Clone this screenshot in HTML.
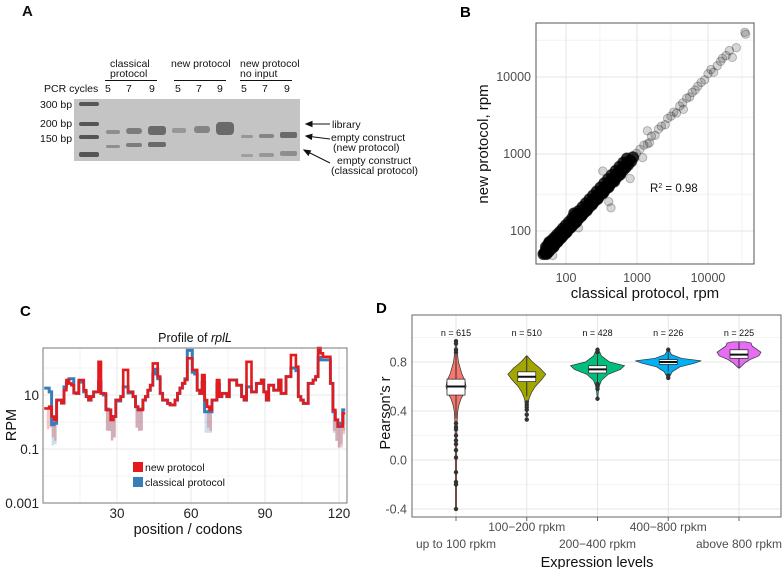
<!DOCTYPE html>
<html><head><meta charset="utf-8"><style>
html,body{margin:0;padding:0;background:#fff}
svg{display:block;font-family:"Liberation Sans",Arial,sans-serif}
</style></head><body>
<svg id="fig" width="782" height="569" viewBox="0 0 782 569" xmlns="http://www.w3.org/2000/svg">
<!-- Panel A -->
<g font-size="10.5" fill="#111">
<text x="22" y="16" font-size="15" font-weight="bold">A</text>
<text x="110" y="67"><tspan x="110">classical</tspan><tspan x="110" dy="10">protocol</tspan></text>
<text x="171" y="67">new protocol</text>
<text x="240" y="67"><tspan x="240">new protocol</tspan><tspan x="240" dy="10">no input</tspan></text>
<line x1="105" y1="80.5" x2="157" y2="80.5" stroke="#111"/>
<line x1="174" y1="80.5" x2="226" y2="80.5" stroke="#111"/>
<line x1="240" y1="80.5" x2="292" y2="80.5" stroke="#111"/>
<text x="44" y="92">PCR cycles</text>
<g>
<text x="105" y="92">5</text><text x="126" y="92">7</text><text x="149" y="92">9</text>
<text x="175" y="92">5</text><text x="196" y="92">7</text><text x="217" y="92">9</text>
<text x="241" y="92">5</text><text x="262" y="92">7</text><text x="284" y="92">9</text>
</g>
<text x="40" y="108">300 bp</text>
<text x="40" y="127">200 bp</text>
<text x="40" y="142">150 bp</text>
<rect x="74" y="99" width="226" height="62" fill="#c4c4c4"/>
<g fill="#555">
<rect x="79" y="102" width="20" height="4" rx="2"/><rect x="79" y="122" width="20" height="4" rx="2"/>
<rect x="79" y="135" width="20" height="4" rx="2"/><rect x="79" y="152" width="20" height="5" rx="2"/>
</g>
<g fill="#6a6a6a">
<rect x="106" y="130" width="14" height="4" rx="2" opacity="0.6"/><rect x="106" y="145" width="14" height="3" rx="1.5" opacity="0.6"/>
<rect x="126" y="128" width="16" height="6" rx="3" opacity="0.8"/><rect x="126" y="143" width="16" height="4" rx="2" opacity="0.8"/>
<rect x="148" y="126" width="18" height="9" rx="3"/><rect x="148" y="142" width="18" height="5" rx="2"/>
<rect x="172" y="128" width="14" height="5" rx="2" opacity="0.5"/>
<rect x="194" y="126" width="16" height="7" rx="3" opacity="0.7"/>
<rect x="216" y="122" width="18" height="13" rx="4"/>
<rect x="241" y="135" width="12" height="3" rx="1.5" opacity="0.5"/><rect x="241" y="154" width="12" height="3" rx="1.5" opacity="0.4"/>
<rect x="259" y="134" width="15" height="4" rx="2" opacity="0.7"/><rect x="259" y="153" width="15" height="4" rx="2" opacity="0.5"/>
<rect x="280" y="132" width="17" height="6" rx="2"/><rect x="280" y="151" width="17" height="5" rx="2" opacity="0.6"/>
</g>
<g stroke="#111" stroke-width="1">
<line x1="330" y1="124" x2="306" y2="124"/><path d="M306 124 l6 -2.5 v5 z" fill="#111"/>
<line x1="330" y1="139" x2="306" y2="136"/><path d="M306 136 l6 -1.7 l-0.6 5 z" fill="#111"/>
<line x1="330" y1="163" x2="304" y2="150"/><path d="M304 150 l6.5 0.8 l-2.2 4.4 z" fill="#111"/>
</g>
<text x="332" y="128">library</text>
<text x="331" y="141"><tspan x="331">empty construct</tspan><tspan x="333" dy="10">(new protocol)</tspan></text>
<text x="337" y="164"><tspan x="337">empty construct</tspan><tspan x="331" dy="10">(classical protocol)</tspan></text>
</g>

<!-- Panel B -->
<g id="pb">
<text x="460" y="17" font-size="15" font-weight="bold">B</text>
<rect x="536" y="23" width="218" height="241" fill="#fff"/>
<g id="bgrid"></g>
<g id="bpts"></g>
<rect x="536" y="23" width="218" height="241" fill="none" stroke="#555"/>
<g id="bticks" font-size="12.5" fill="#4d4d4d"></g>
<text x="650" y="192" font-size="11.5" fill="#111">R<tspan dy="-4" font-size="7">2</tspan><tspan dy="4"> = 0.98</tspan></text>
<text x="645" y="298" font-size="15" text-anchor="middle" fill="#111">classical protocol, rpm</text>
<text transform="translate(488,144) rotate(-90)" font-size="15" text-anchor="middle" fill="#111">new protocol, rpm</text>
</g>

<!-- Panel C -->
<g id="pc">
<text x="20" y="316" font-size="15" font-weight="bold">C</text>
<text x="195" y="342" font-size="12.5" text-anchor="middle" fill="#111">Profile of <tspan font-style="italic">rplL</tspan></text>
<rect x="43" y="348" width="304" height="155" fill="#fff"/>
<g id="cgrid"></g>
<g id="clines"></g>
<rect x="43" y="348" width="304" height="155" fill="none" stroke="#777"/>
<g id="cticks" font-size="13.5" fill="#222"></g>
<g font-size="10.5" fill="#111">
<rect x="133" y="462" width="10" height="10" fill="#e41a1c"/>
<text x="145" y="471">new protocol</text>
<rect x="133" y="477" width="10" height="10" fill="#377eb8"/>
<text x="145" y="486">classical protocol</text>
</g>
<text x="188" y="534" font-size="14.5" text-anchor="middle" fill="#111">position / codons</text>
<text transform="translate(16,425) rotate(-90)" font-size="14.5" text-anchor="middle" fill="#111">RPM</text>
</g>

<!-- Panel D -->
<g id="pd">
<text x="376" y="313" font-size="15" font-weight="bold">D</text>
<rect x="412" y="315" width="369" height="202" fill="#fff"/>
<g id="dgrid"></g>
<g id="dmarks"></g>
<rect x="412" y="315" width="369" height="202" fill="none" stroke="#666"/>
<g id="dticks" font-size="12" fill="#4d4d4d"></g>
<text x="597" y="567" font-size="14.5" text-anchor="middle" fill="#111">Expression levels</text>
<text transform="translate(390,413) rotate(-90)" font-size="14.5" text-anchor="middle" fill="#111">Pearson's r</text>
</g>
</svg>
<script>
// ---------- Panel B data ----------
var scatterX = [50,52,53,55,55,57,58,60,60,62,63,65,66,68,70,70,72,74,75,77,78,80,82,84,85,87,90,92,95,97,100,100,104,107,110,113,116,120,123,126,130,133,137,140,145,150,155,160,165,170,176,182,188,195,200,208,215,222,230,238,246,255,263,272,282,292,302,313,325,337,350,362,375,390,405,420,435,452,470,488,506,525,545,565,590,610,635,660,690,720,750,790,830,880,930,980,65,58,130,150,330,430,400,800,1200,1400,1500,1100,1250,1400,1600,1800,2000,2200,2500,2700,3000,3300,3600,4000,4400,4500,5000,5500,6000,6600,7200,8000,9000,10000,11000,12000,13500,15000,16000,18000,20000,22000,25000,33000,34000,54,56,59,62,67,71,76,81,88,94,102,109,118,128,139,152,166,180,197,214,234,256,280,305,335,365,400,440,480,530,580,52,56,60,64,69,75,82,90,99,110,122,136,152,170,190,213,240,270,305,345,390,440,500,565,640,720,48,50,53,57,62,68,74,82,91,101,113,127,143,161,182,206,233,264,300,340,386,438,500,570];
var scatterY = [52,55,50,58,52,60,55,63,57,60,66,62,70,65,74,67,70,78,72,75,82,77,86,80,90,84,94,88,100,93,105,96,100,112,106,118,111,126,118,132,124,140,131,147,139,157,148,168,158,178,168,190,180,204,192,218,206,232,220,250,236,266,252,285,270,305,290,328,312,352,335,380,360,408,388,440,418,472,450,510,485,550,522,590,565,640,610,690,660,750,720,820,800,910,880,1020,48,72,170,110,600,200,240,480,900,2000,1400,1150,1300,1350,1700,1750,2100,2300,2400,2900,3100,3500,3400,4200,4600,3800,5300,5500,6300,6800,7600,8500,9200,11000,12500,11500,14000,16000,17500,19000,22000,18000,24000,38000,36000,60,54,57,66,62,77,72,88,84,101,96,116,112,134,130,160,157,188,184,223,220,265,260,315,310,380,370,460,440,560,540,62,67,72,77,83,90,98,108,119,132,147,164,183,205,230,258,290,327,369,418,473,535,606,686,776,877,50,52,55,59,64,70,76,84,93,103,115,129,145,163,184,208,235,266,302,342,388,440,502,572];
var bTicks = [100,1000,10000];
var bTickLabels = ["100","1000","10000"];

// ---------- Panel C data ----------
var codons = [];
for (var i = 1; i <= 122; i++) codons.push(i);
var rpmNew = [3.2,3.2,3.7,1.6,1.2,6.5,6.5,5,15,36,27,23,12,11.5,36,36,15,8.7,6.5,8.7,13,13,170,11.5,11.5,2.8,2.8,1.2,1.6,6.5,6.5,8.7,85,85,13,13,8.7,3.7,2.8,2.8,6.5,8.7,15,23,148,148,48,11.5,6.5,6.5,4.9,4.3,4.3,6.5,11.5,18,27,36,228,228,85,85,15,11.5,55,6.5,3.7,2.8,6.5,6.5,36,8.7,11.5,11.5,8.7,36,36,36,23,23,8.7,6.5,170,170,13,13,27,27,36,13,6.5,23,23,15,15,36,11.5,11.5,48,48,300,300,112,8.7,6.5,4.9,4.9,27,27,36,48,610,350,260,260,260,27,2.8,1.2,0.68,0.68,2.1];
var rpmClassical = [18,18,13,0.8,0.9,6.5,6.5,5,20,27,40,40,12,11.5,30,30,13,8.7,6.5,8.7,13,13,30,11.5,10,3,2.8,1.3,1.6,6.5,6,8.7,20,20,12,13,8.7,3.7,2.8,3,6.5,8.7,15,23,60,90,40,11.5,6.5,6.5,4.9,4.3,4.3,6.5,11.5,18,27,40,450,450,70,60,15,11.5,30,2.4,2.4,2.4,6.5,6.5,25,8.7,11.5,11.5,8.7,36,36,36,23,23,8.7,6.5,20,20,13,13,27,27,36,13,6.5,23,23,15,15,36,11.5,11.5,48,48,100,100,80,8.7,6.5,4.9,4.9,27,27,36,48,250,200,200,200,200,27,2.4,1.2,0.68,0.9,2.8];
var cXTicks = [30,60,90,120];
var cYTicks = [10,0.1,0.001];
var cYTickLabels = ["10","0.1","0.001"];

// ---------- Panel D data ----------
var dCategories = ["up to 100 rpkm","100\u2212200 rpkm","200\u2212400 rpkm","400\u2212800 rpkm","above 800 rpkm"];
var dCounts = [615,510,428,226,225];
var dColors = ["#F8766D","#A3A500","#00BF7D","#00B0F6","#E76BF3"];
var dMedian = [0.60,0.68,0.74,0.80,0.86];
var dQ1 = [0.53,0.64,0.71,0.78,0.83];
var dQ3 = [0.66,0.72,0.77,0.82,0.90];
var dWhiskLo = [0.34,0.52,0.63,0.72,0.75];
var dWhiskHi = [0.86,0.85,0.86,0.88,0.96];
var dOutliers = [[0.88,0.9,0.95,0.97,0.3,0.27,0.25,0.2,0.16,0.13,0.08,0.02,-0.1,-0.18,-0.2,-0.4],[0.47,0.45,0.43,0.41,0.37,0.33],[0.9,0.88,0.62,0.6,0.58,0.5],[0.9,0.69,0.67],[]];
var dViolinY = [[0.97,0.9,0.8,0.7,0.65,0.6,0.55,0.5,0.45,0.4,0.3,0.2,0,-0.4],[0.85,0.8,0.75,0.7,0.65,0.6,0.55,0.5,0.45,0.4,0.34],[0.91,0.85,0.8,0.77,0.74,0.7,0.65,0.6,0.55,0.5],[0.9,0.86,0.83,0.81,0.79,0.76,0.72,0.68,0.66],[0.965,0.955,0.93,0.88,0.85,0.82,0.79,0.76,0.75]];
var dViolinW = [[0.05,0.1,0.25,0.6,0.9,1,0.85,0.5,0.3,0.18,0.1,0.08,0.07,0.06],[0.02,0.3,0.7,1,0.75,0.45,0.25,0.12,0.06,0.03,0.01],[0.02,0.15,0.45,1,0.85,0.4,0.15,0.06,0.03,0.01],[0.02,0.1,0.4,1,0.8,0.35,0.12,0.04,0.01],[0.3,0.55,0.6,1,0.9,0.5,0.25,0.08,0.02]];
var dMaxHalf = [10,19,27,33,22];
var dYTicks = [0.8,0.4,0.0,-0.4];
var dYTickLabels = ["0.8","0.4","0.0","-0.4"];

var NS = "http://www.w3.org/2000/svg";
function mk(tag, parent) { var e = document.createElementNS(NS, tag); parent.appendChild(e); return e; }

// ---------- Panel B ----------
function bx(v) { return 566 + 71 * Math.log10(v / 100); }
function by(v) { return 231 - 77 * Math.log10(v / 100); }
(function () {
  var g = document.getElementById('bgrid');
  var minors = [300, 3000, 30000];
  minors.forEach(function (m) {
    if (bx(m) < 754) { var l = mk('line', g); l.setAttribute('x1', bx(m)); l.setAttribute('x2', bx(m)); l.setAttribute('y1', 23); l.setAttribute('y2', 264); l.setAttribute('stroke', '#f2f2f2');
        }
    if (by(m) > 23) { var l2 = mk('line', g); l2.setAttribute('x1', 536); l2.setAttribute('x2', 754); l2.setAttribute('y1', by(m)); l2.setAttribute('y2', by(m)); l2.setAttribute('stroke', '#f2f2f2');
        }
  });
  var t = document.getElementById('bticks');
  bTicks.forEach(function (v, i) {
    var l = mk('line', g); l.setAttribute('x1', bx(v)); l.setAttribute('x2', bx(v)); l.setAttribute('y1', 23); l.setAttribute('y2', 264); l.setAttribute('stroke', '#e6e6e6');
     
    var l2 = mk('line', g); l2.setAttribute('x1', 536); l2.setAttribute('x2', 754); l2.setAttribute('y1', by(v)); l2.setAttribute('y2', by(v)); l2.setAttribute('stroke', '#e6e6e6');
     
    var tx = mk('text', t); tx.textContent = bTickLabels[i]; tx.setAttribute('x', bx(v)); tx.setAttribute('y', 282); tx.setAttribute('text-anchor', 'middle');
     
    var ty = mk('text', t); ty.textContent = bTickLabels[i]; ty.setAttribute('x', 531); ty.setAttribute('y', by(v) + 4); ty.setAttribute('text-anchor', 'end');
     
  });
  var p = document.getElementById('bpts');
  for (var i = 0; i < scatterX.length; i++) {
    var dev = Math.abs(Math.log10(scatterY[i] / scatterX[i]));
    var dense = scatterX[i] < 900 && dev < 0.12;
    var c = mk('circle', p);
    c.setAttribute('cx', bx(scatterX[i])); c.setAttribute('cy', by(scatterY[i])); c.setAttribute('r', dense ? 5.5 : 4.2);
    c.setAttribute('fill', '#000'); c.setAttribute('fill-opacity', dense ? 0.8 : 0.16); c.setAttribute('stroke', '#000'); c.setAttribute('stroke-opacity', dense ? 0.5 : 0.25);
    
    
  }
})();

// ---------- Panel C ----------
function cx(v) { return 43 + 2.467 * v; }
function cy(v) { return 395 - 27 * (Math.log10(v) - 1); }
(function () {
  var g = document.getElementById('cgrid');
  [1, 0.01, 100].forEach(function (v) {
    var l = mk('line', g); l.setAttribute('x1', 43); l.setAttribute('x2', 347); l.setAttribute('y1', cy(v)); l.setAttribute('y2', cy(v)); l.setAttribute('stroke', '#f3f3f3');
     
  });
  [15, 45, 75, 105].forEach(function (v) {
    var l = mk('line', g); l.setAttribute('x1', cx(v)); l.setAttribute('x2', cx(v)); l.setAttribute('y1', 348); l.setAttribute('y2', 503); l.setAttribute('stroke', '#f3f3f3');
     
  });
  var t = document.getElementById('cticks');
  cXTicks.forEach(function (v) {
    var l = mk('line', g); l.setAttribute('x1', cx(v)); l.setAttribute('x2', cx(v)); l.setAttribute('y1', 348); l.setAttribute('y2', 503); l.setAttribute('stroke', '#e8e8e8');
     
    var tx = mk('text', t); tx.textContent = String(v); tx.setAttribute('x', cx(v)); tx.setAttribute('y', 518); tx.setAttribute('text-anchor', 'middle');
     
  });
  cYTicks.forEach(function (v, i) {
    var l = mk('line', g); l.setAttribute('x1', 43); l.setAttribute('x2', 347); l.setAttribute('y1', cy(v)); l.setAttribute('y2', cy(v)); l.setAttribute('stroke', '#e8e8e8');
     
    var ty = mk('text', t); ty.textContent = cYTickLabels[i]; ty.setAttribute('x', 39); ty.setAttribute('y', cy(v) + 5); ty.setAttribute('text-anchor', 'end');
     
  });
  var lg = document.getElementById('clines');
  function stepPath(vals) {
    var d = '';
    for (var i = 0; i < codons.length; i++) {
      var y = Math.max(cy(vals[i]), 348);
      var x0 = cx(codons[i] - 0.5), x1 = cx(codons[i] + 0.5);
      d += (i === 0 ? 'M' : 'L') + x0.toFixed(1) + ' ' + y.toFixed(1) + 'L' + x1.toFixed(1) + ' ' + y.toFixed(1);
    }
    return d;
  }
  function paleBars(vals, color) {
    for (var i = 1; i < codons.length; i++) {
      if (vals[i] < 4) {
        var b = mk('line', lg);
        b.setAttribute('x1', cx(codons[i])); b.setAttribute('x2', cx(codons[i]));
        b.setAttribute('y1', cy(vals[i])); b.setAttribute('y2', cy(vals[i] / 6));
        b.setAttribute('stroke', color); b.setAttribute('stroke-width', 2.5); b.setAttribute('stroke-opacity', 0.25);
        
        
      }
    }
  }
  paleBars(rpmClassical, '#377eb8');
  paleBars(rpmNew, '#e41a1c');
  var pb = mk('path', lg); pb.setAttribute('d', stepPath(rpmClassical)); pb.setAttribute('fill', 'none'); pb.setAttribute('stroke', '#377eb8'); pb.setAttribute('stroke-width', 3);
  
  
  var pr = mk('path', lg); pr.setAttribute('d', stepPath(rpmNew)); pr.setAttribute('fill', 'none'); pr.setAttribute('stroke', '#e41a1c'); pr.setAttribute('stroke-width', 2.6);
  
  
})();

// ---------- Panel D ----------
function dx(i) { return 456 + i * 70.75; }
function dy(v) { return 460 - 122.5 * v; }
(function () {
  var g = document.getElementById('dgrid');
  [1.0, 0.6, 0.2, -0.2].forEach(function (v) {
    var l = mk('line', g); l.setAttribute('x1', 412); l.setAttribute('x2', 781); l.setAttribute('y1', dy(v)); l.setAttribute('y2', dy(v)); l.setAttribute('stroke', '#f3f3f3');
     
  });
  var t = document.getElementById('dticks');
  dYTicks.forEach(function (v, i) {
    var l = mk('line', g); l.setAttribute('x1', 412); l.setAttribute('x2', 781); l.setAttribute('y1', dy(v)); l.setAttribute('y2', dy(v)); l.setAttribute('stroke', '#e6e6e6');
     
    var ty = mk('text', t); ty.textContent = dYTickLabels[i]; ty.setAttribute('x', 407); ty.setAttribute('y', dy(v) + 4.5); ty.setAttribute('text-anchor', 'end'); ty.setAttribute('font-size', 12.5);
     
  });
  var m = document.getElementById('dmarks');
  dCategories.forEach(function (cat, i) {
    var x = dx(i);
    var l = mk('line', g); l.setAttribute('x1', x); l.setAttribute('x2', x); l.setAttribute('y1', 315); l.setAttribute('y2', 517); l.setAttribute('stroke', '#e6e6e6');
     
    var tk = mk('line', t); tk.setAttribute('x1', x); tk.setAttribute('x2', x); tk.setAttribute('y1', 517); tk.setAttribute('y2', 521); tk.setAttribute('stroke', '#666');
     
    var tx = mk('text', t); tx.textContent = cat; tx.setAttribute('x', x); tx.setAttribute('y', i % 2 === 0 ? 548 : 531); tx.setAttribute('text-anchor', 'middle');
     
    var n = mk('text', m); n.textContent = 'n = ' + dCounts[i]; n.setAttribute('x', x); n.setAttribute('y', 336); n.setAttribute('text-anchor', 'middle'); n.setAttribute('font-size', 9); n.setAttribute('fill', '#111');
     
    var ys = dViolinY[i], ws = dViolinW[i], h = dMaxHalf[i];
    var d = '';
    for (var k = 0; k < ys.length; k++) d += (k === 0 ? 'M' : 'L') + (x + ws[k] * h).toFixed(1) + ' ' + dy(ys[k]).toFixed(1);
    for (var k2 = ys.length - 1; k2 >= 0; k2--) d += 'L' + (x - ws[k2] * h).toFixed(1) + ' ' + dy(ys[k2]).toFixed(1);
    d += 'Z';
    var vp = mk('path', m); vp.setAttribute('d', d); vp.setAttribute('fill', dColors[i]); vp.setAttribute('stroke', '#333'); vp.setAttribute('stroke-width', 0.7);
    
    
    var wl = mk('line', m); wl.setAttribute('x1', x); wl.setAttribute('x2', x); wl.setAttribute('y1', dy(dWhiskLo[i])); wl.setAttribute('y2', dy(dWhiskHi[i])); wl.setAttribute('stroke', '#333'); wl.setAttribute('stroke-width', 1);
    
    
    dOutliers[i].forEach(function (o) {
      var c = mk('circle', m); c.setAttribute('cx', x); c.setAttribute('cy', dy(o)); c.setAttribute('r', 2.2); c.setAttribute('fill', '#333');
      
      
    });
    var bxr = mk('rect', m); bxr.setAttribute('x', x - 9); bxr.setAttribute('width', 18); bxr.setAttribute('y', dy(dQ3[i])); bxr.setAttribute('height', dy(dQ1[i]) - dy(dQ3[i]));
    bxr.setAttribute('fill', '#fff'); bxr.setAttribute('stroke', '#333'); bxr.setAttribute('stroke-width', 0.8);
    
    
    var md = mk('line', m); md.setAttribute('x1', x - 9); md.setAttribute('x2', x + 9); md.setAttribute('y1', dy(dMedian[i])); md.setAttribute('y2', dy(dMedian[i])); md.setAttribute('stroke', '#111'); md.setAttribute('stroke-width', 2);
    
    
  });
})();
</script>
</body></html>
